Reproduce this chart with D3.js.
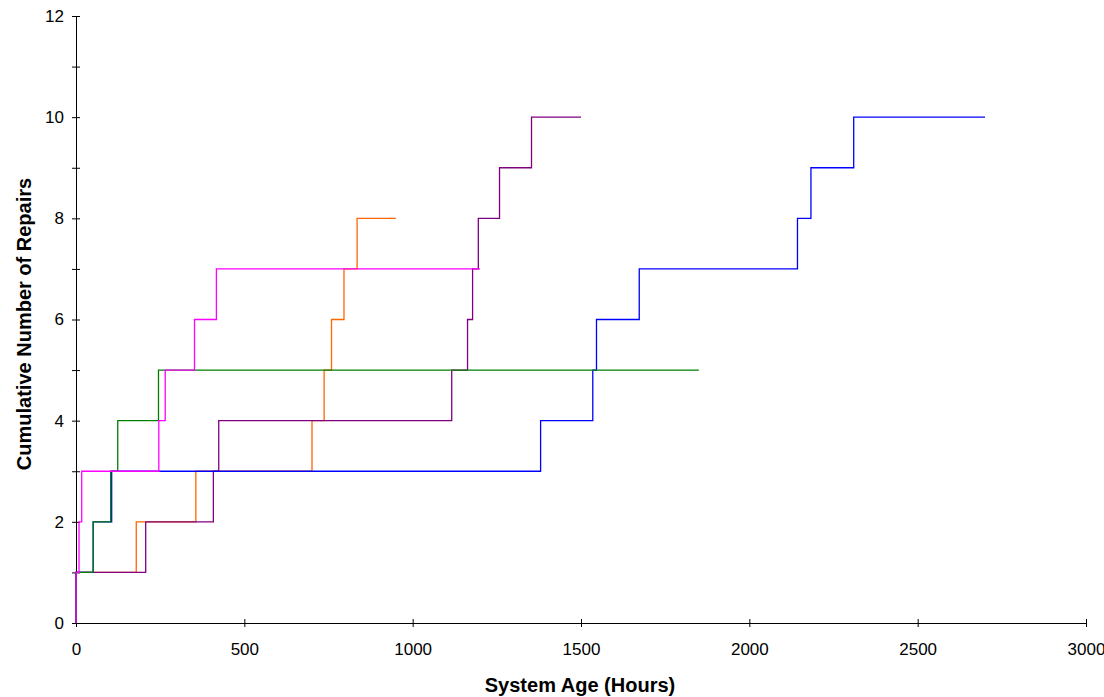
<!DOCTYPE html>
<html><head><meta charset="utf-8">
<script src="https://cdn.jsdelivr.net/npm/d3@7"></script>
<style>body{margin:0;background:#fff}svg{display:block}text{font-family:"Liberation Sans",Arial,sans-serif}</style>
</head><body>
<svg id="chart" width="1104" height="697"></svg>
<script>
// Repair times (hours) for each system; cumulative count steps by 1 at each time
const blueTimes    = [0, 51, 106, 1380, 1535, 1546, 1673, 2143, 2183, 2310];
const blueEnd      = 2700;
const greenTimes   = [0, 51, 103, 124, 245];
const greenEnd     = 1850;
const orangeTimes  = [0, 179, 356, 701, 737, 759, 796, 835];
const orangeEnd    = 950;
const purpleTimes  = [0, 207, 408, 424, 1116, 1163, 1178, 1195, 1258, 1353];
const purpleEnd    = 1500;
const magentaTimes = [0, 9, 17, 246, 265, 352, 417];
const magentaEnd   = 1200;

const xTicks = [0, 500, 1000, 1500, 2000, 2500, 3000];
const yTicks = [0, 2, 4, 6, 8, 10, 12];
const yMinorTicks = [0,1,2,3,4,5,6,7,8,9,10,11,12];

const series = [
  {times: orangeTimes, end: orangeEnd, color: "#FF6600"},
  {times: purpleTimes, end: purpleEnd, color: "#800080"},
  {times: blueTimes, end: blueEnd, color: "#0000FF"},
  {times: greenTimes, end: greenEnd, color: "#008000"},
  {times: magentaTimes, end: magentaEnd, color: "#FF00FF"}
];

const svg = d3.select("#chart");
const x = d3.scaleLinear().domain([0, 3000]).range([76, 1086]);
const y = d3.scaleLinear().domain([0, 12]).range([623, 16]);

// axes
const axisColor = "#000";
const xAxis = svg.append("g").attr("transform", "translate(0,623)")
  .call(d3.axisBottom(x).tickValues(xTicks).tickSize(4).tickSizeOuter(0).tickPadding(16).tickFormat(d3.format("d")));
xAxis.selectAll(".tick line").attr("y1", -4);
const yAxis = svg.append("g").attr("transform", "translate(76,0)")
  .call(d3.axisLeft(y).tickValues(yMinorTicks).tickSize(4).tickSizeOuter(0).tickPadding(8)
    .tickFormat(d => yTicks.includes(d) ? d : ""));
yAxis.selectAll(".tick line").attr("x1", 4);
[xAxis, yAxis].forEach(g => {
  g.attr("font-size", 17).attr("font-family", '"Liberation Sans",Arial,sans-serif');
  g.select(".domain").attr("stroke", axisColor).attr("stroke-width", 1);
  g.selectAll(".tick line").attr("stroke", axisColor);
  g.selectAll("text").attr("fill", "#000");
});

// series as step lines (drawn over the axes)
const line = d3.line().x(d => x(d[0])).y(d => y(d[1])).curve(d3.curveStepAfter);
series.forEach(s => {
  const pts = [[0, 0]];
  s.times.forEach((t, i) => pts.push([t, i + 1]));
  pts.push([s.end, s.times.length]);
  svg.append("path").attr("d", line(pts)).attr("fill", "none")
    .attr("stroke", s.color).attr("stroke-width", 1.3);
});

svg.append("text").attr("x", 580).attr("y", 692).attr("text-anchor", "middle")
  .attr("font-size", 20).attr("font-weight", "bold").text("System Age (Hours)");
svg.append("text").attr("transform", "translate(31,324) rotate(-90)").attr("text-anchor", "middle")
  .attr("font-size", 20).attr("font-weight", "bold").text("Cumulative Number of Repairs");
</script>
</body></html>
